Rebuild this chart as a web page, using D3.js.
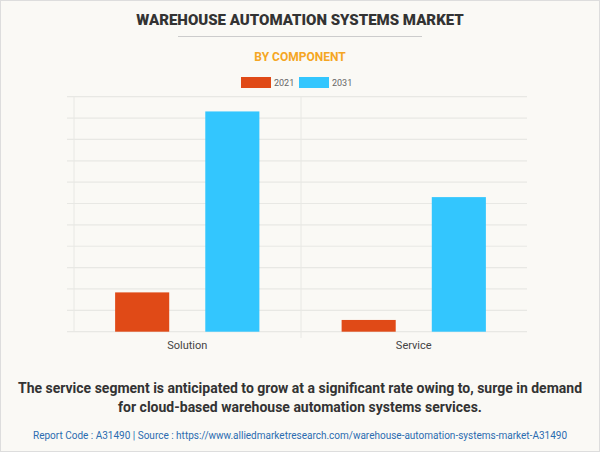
<!DOCTYPE html><html><head><script src="https://cdn.jsdelivr.net/npm/d3@7"></script>
<style>body{margin:0}svg{display:block}</style></head><body><script>
const categories=["Solution","Service"];
const seriesNames=["2021","2031"];
const values2021=[1.84,0.55];
const values2031=[10.31,6.3];
const colors=["#e04a17","#33c6fe"];
const W=600,H=452;
const svg=d3.select("body").append("svg").attr("width",W).attr("height",H);
svg.append("rect").attr("x",0.5).attr("y",0.5).attr("width",W-1).attr("height",H-1).attr("fill","#faf9f5").attr("stroke","#ddd");
svg.append("text").attr("x",300).attr("y",25).attr("text-anchor","middle").attr("font-family","Roboto,Arial").attr("font-weight","900").attr("font-size",15).attr("fill","#333").text("WAREHOUSE AUTOMATION SYSTEMS MARKET");
svg.append("line").attr("x1",178).attr("x2",422).attr("y1",36.5).attr("y2",36.5).attr("stroke","#ccc");
svg.append("text").attr("x",300).attr("y",61).attr("text-anchor","middle").attr("font-family","Roboto,Arial").attr("font-weight","bold").attr("font-size",12).attr("fill","#f5a623").text("BY COMPONENT");
const lg=svg.append("g").attr("font-family","Roboto,Arial").attr("font-size",9).attr("fill","#666");
[[241,"2021"],[299,"2031"]].forEach((d,i)=>{lg.append("rect").attr("x",d[0]).attr("y",77).attr("width",30).attr("height",11).attr("fill",colors[i]);lg.append("text").attr("x",d[0]+33).attr("y",86).text(seriesNames[i]);});
const x0=d3.scaleBand().domain(categories).range([74,527]);
const x1=d3.scaleBand().domain(seriesNames).range([0,x0.bandwidth()]).paddingInner(0.4).paddingOuter(0.456);
const y=d3.scaleLinear().domain([0,11]).range([331.7,96.7]);
const g=svg.append("g");
y.ticks(11).forEach(t=>g.append("line").attr("x1",67).attr("x2",527).attr("y1",y(t)).attr("y2",y(t)).attr("stroke","#e8e8e4").attr("stroke-width",1.2));
[74,301].forEach(v=>g.append("line").attr("x1",v).attr("x2",v).attr("y1",96.7).attr("y2",v==74?331.7:338).attr("stroke","#e8e8e4"));
categories.forEach((c,i)=>{[values2021[i],values2031[i]].forEach((v,j)=>{
g.append("rect").attr("x",x0(c)+x1(seriesNames[j])).attr("width",x1.bandwidth()).attr("y",y(v)).attr("height",y(0)-y(v)).attr("fill",colors[j]);});
g.append("text").attr("x",x0(c)+x0.bandwidth()/2).attr("y",349).attr("text-anchor","middle").attr("font-family","Roboto,Arial").attr("font-size",11).attr("fill","#444").text(c);});
const ft=svg.append("g").attr("font-family","Roboto,Arial").attr("text-anchor","middle");
ft.append("text").attr("x",300).attr("y",393).attr("font-size",14).attr("font-weight","bold").attr("fill","#333").text("The service segment is anticipated to grow at a significant rate owing to, surge in demand");
ft.append("text").attr("x",300).attr("y",412).attr("font-size",14).attr("font-weight","bold").attr("fill","#333").text("for cloud-based warehouse automation systems services.");
ft.append("text").attr("x",300).attr("y",439).attr("font-size",10).attr("fill","#2b6cb0").text("Report Code : A31490  |  Source : https://www.alliedmarketresearch.com/warehouse-automation-systems-market-A31490");
</script></body></html>
